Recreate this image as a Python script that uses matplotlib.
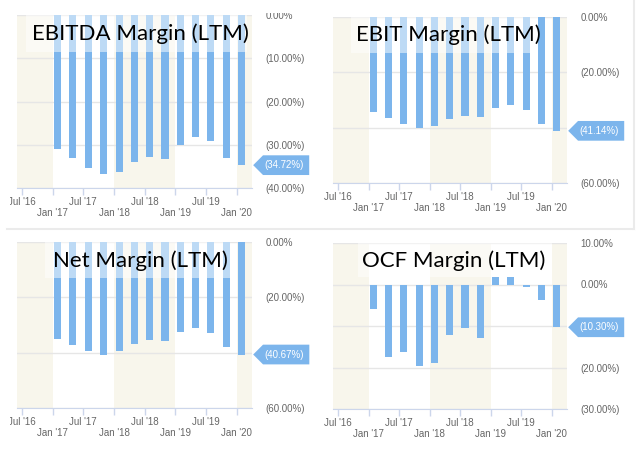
import matplotlib
matplotlib.use("Agg")
import matplotlib.pyplot as plt
import matplotlib.dates as mdates
from matplotlib.ticker import FixedLocator, FuncFormatter
from matplotlib.patches import Rectangle
from matplotlib.lines import Line2D
from matplotlib.path import Path
import pandas as pd

# quarterly LTM margins (%), fiscal quarters ending Jan/Apr/Jul/Oct
quarters = pd.to_datetime([
    "2017-01-31", "2017-04-30", "2017-07-31", "2017-10-31",
    "2018-01-31", "2018-04-30", "2018-07-31", "2018-10-31",
    "2019-01-31", "2019-04-30", "2019-07-31", "2019-10-31",
    "2020-01-31",
])
ebitda = [-31.0, -33.0, -35.4, -36.8, -36.2, -34.0, -32.8, -33.3, -30.1, -28.3, -29.1, -33.0, -34.72]
ebit = [-34.2, -36.4, -38.7, -40.1, -39.3, -37.0, -35.8, -36.0, -32.9, -31.7, -33.5, -38.7, -41.14]
net = [-35.1, -37.1, -39.3, -40.7, -39.3, -36.9, -35.5, -35.9, -32.7, -31.2, -33.0, -37.8, -40.67]
ocf = [-6.0, -17.4, -16.2, -19.6, -19.0, -12.2, -10.6, -12.9, 1.8, 1.7, -0.6, -3.8, -10.30]

titles = ["EBITDA Margin (LTM)", "EBIT Margin (LTM)", "Net Margin (LTM)", "OCF Margin (LTM)"]
series = [ebitda, ebit, net, ocf]
y_ranges = [(-40, 0), (-60, 0), (-60, 0), (-30, 10)]
y_steps = [10, 20, 20, 10]

jan_ticks = pd.to_datetime(["2017-01-01", "2018-01-01", "2019-01-01", "2020-01-01"])
jul_ticks = pd.to_datetime(["2016-07-01", "2017-07-01", "2018-07-01", "2019-07-01"])
x_start, x_end = pd.Timestamp("2016-06-03"), pd.Timestamp("2020-03-31")

BLUE = "#7cb5ec"
BEIGE = "#f8f6ec"
W, H = 640, 462

# layout in pixels: axes (left, top, right, bottom), title box (x0, x1, bottom), title centre
panel_px = [(17, 15, 252, 188), (333, 17, 567, 183), (17, 242, 252, 408), (333, 243, 567, 409)]
box_px = [(26, 247, 52), (351, 538, 53), (45, 230, 278), (358, 552, 277)]
title_px = [(140, 34), (448, 35), (140, 261), (454, 261)]


def pct(v):
    if v < -1e-9:
        return f"({-v:.2f}%)"
    return f"{abs(v):.2f}%"


def axis_fmt(last, span):
    # the value callout sits on top of any axis label next to it
    def f(v, pos=None):
        return "" if abs(v - last) < 0.1 * span else pct(v)
    return FuncFormatter(f)


def callout(x0, y0, width, height, mutation_size):
    py = 0.5 * mutation_size
    pl, pr = 0.1 * mutation_size, 0.6 * mutation_size
    left, right = x0 - pl, x0 + width + pr
    bot, top = y0 - py, y0 + height + py
    half = (top - bot) / 2
    verts = [(left, bot), (right, bot), (right, top), (left, top), (left - half, bot + half), (left, bot)]
    return Path(verts, closed=True)


fig = plt.figure(figsize=(W / 100, H / 100), dpi=100)

for i in range(4):
    l, t, r, b = panel_px[i]
    ax = fig.add_axes([l / W, 1 - b / H, (r - l) / W, (b - t) / H])
    lo, hi = y_ranges[i]
    last = series[i][-1]

    # alternating year bands
    ax.axvspan(x_start, jan_ticks[0], color=BEIGE, lw=0, zorder=0.1)
    ax.axvspan(jan_ticks[1], jan_ticks[2], color=BEIGE, lw=0, zorder=0.1)
    ax.axvspan(jan_ticks[3], x_end, color=BEIGE, lw=0, zorder=0.1)

    ax.bar(quarters, series[i], width=42, color=BLUE, zorder=2)

    ax.set_xlim(x_start, x_end)
    ax.set_ylim(lo, hi)
    ax.yaxis.set_major_locator(FixedLocator(list(range(lo, hi + 1, y_steps[i]))))
    ax.yaxis.set_major_formatter(axis_fmt(last, hi - lo))
    ax.yaxis.tick_right()
    ax.yaxis.grid(True, color="#e6e6e6", lw=1)
    ax.set_axisbelow(True)

    ax.xaxis.set_major_locator(FixedLocator(mdates.date2num(jan_ticks)))
    ax.xaxis.set_minor_locator(FixedLocator(mdates.date2num(jul_ticks)))
    ax.xaxis.set_major_formatter(mdates.DateFormatter("%b '%y"))
    ax.xaxis.set_minor_formatter(mdates.DateFormatter("%b '%y"))
    ax.tick_params(axis="x", which="both", length=5, width=1, color="#ccd6eb",
                   labelcolor="#666666", labelsize=7)
    ax.tick_params(axis="x", which="major", pad=9.6)
    ax.tick_params(axis="x", which="minor", pad=1.8)
    ax.tick_params(axis="y", length=0, pad=9.7, labelcolor="#666666", labelsize=7)
    for lab in ax.get_xticklabels(which="both") + ax.get_yticklabels():
        lab.set_family("Liberation Sans")

    for s in ["top", "left", "right"]:
        ax.spines[s].set_visible(False)
    ax.spines["bottom"].set_color("#ccd6eb")

    ax.annotate(pct(last), xy=(1, last), xycoords=("axes fraction", "data"),
                xytext=(12, 0), textcoords="offset pixels", ha="left", va="center",
                color="white", fontsize=7, family="Liberation Sans", annotation_clip=False,
                bbox=dict(boxstyle=callout, fc=BLUE, ec="none"))

    # translucent title box over the top of the plot
    x0, x1, yb = box_px[i]
    fig.add_artist(Rectangle((x0 / W, 1 - yb / H), (x1 - x0) / W, (yb - t) / H,
                             transform=fig.transFigure, fc="white", alpha=0.5, lw=0, zorder=3))
    tx, ty = title_px[i]
    fig.text(tx / W, 1 - ty / H, titles[i], ha="center", va="center", fontsize=16,
             family="Lato", color="black", zorder=4)

# screenshot crop edges
for (x, y, w, h) in [(0, 188, 10, 40), (0, 408, 10, 50), (319, 183, 5, 40), (319, 409, 5, 50), (255, 0, 60, 12.5)]:
    fig.add_artist(Rectangle((x / W, 1 - (y + h) / H), w / W, h / H, transform=fig.transFigure,
                             fc="white", lw=0, zorder=5))
fig.add_artist(Line2D([7 / W, 634 / W], [1 - 228.5 / H] * 2, transform=fig.transFigure,
                      color="#ebebeb", lw=1.5, zorder=5))
fig.add_artist(Line2D([634 / W] * 2, [1 - 228.5 / H, 1], transform=fig.transFigure,
                      color="#ebebeb", lw=1.5, zorder=5))

fig.savefig("out.png", dpi=100)
